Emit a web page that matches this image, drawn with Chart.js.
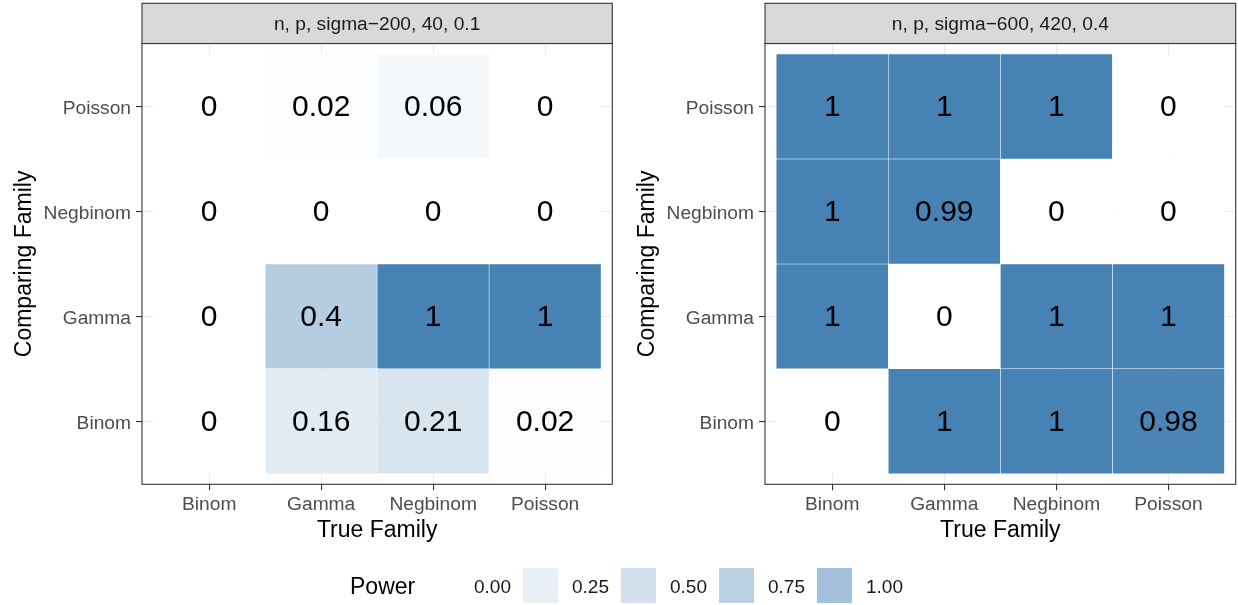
<!DOCTYPE html>
<html>
<head>
<meta charset="utf-8">
<script src="https://cdn.jsdelivr.net/npm/chart.js@4.4.1/dist/chart.umd.min.js"></script>
<style>
  html, body { margin: 0; padding: 0; background: #ffffff; }
  #wrap { position: relative; width: 1238px; height: 605px; overflow: hidden;
          font-family: "Liberation Sans", Arial, sans-serif; }
  canvas { position: absolute; top: 0; }
  .lg-title { position: absolute; font-size: 23px; color: #000; line-height: 1; white-space: nowrap; }
  .lg-key { position: absolute; width: 35px; height: 35px; }
  .lg-label { position: absolute; font-size: 19px; color: #1a1a1a; line-height: 1; white-space: nowrap; }
</style>
</head>
<body>
<div id="wrap">
  <canvas id="panelA" width="619" height="605" style="left:0px"></canvas>
  <canvas id="panelB" width="615" height="605" style="left:623px"></canvas>
  <div id="legend"></div>
</div>
<script>
// ---- data ----
const trueFamilies = ['Binom', 'Gamma', 'Negbinom', 'Poisson'];        // x axis
const comparingFamilies = ['Binom', 'Gamma', 'Negbinom', 'Poisson'];   // y axis, bottom to top
const stripTitles = ['n, p, sigma\u2212200, 40, 0.1', 'n, p, sigma\u2212600, 420, 0.4'];

// power[row][col]: rows follow comparingFamilies, columns follow trueFamilies
const powerA = [
  [0, 0.16, 0.21, 0.02],  // Binom
  [0, 0.4, 1, 1],         // Gamma
  [0, 0, 0, 0],           // Negbinom
  [0, 0.02, 0.06, 0]      // Poisson
];
const powerB = [
  [0, 1, 1, 0.98],        // Binom
  [1, 0, 1, 1],           // Gamma
  [1, 0.99, 0, 0],        // Negbinom
  [1, 1, 1, 0]            // Poisson
];
const legendBreaks = [0, 0.25, 0.5, 0.75, 1];

// ---- styling ----
const FONT = '"Liberation Sans", Arial, sans-serif';
const SMALL = 19.2;   // tick, strip text
const TITLE = 23;     // axis titles
const LOW = [255, 255, 255];
const HIGH = [70, 130, 180];   // steelblue
function powerColor(v, strength) {
  const t = v * (strength === undefined ? 1 : strength);
  return 'rgb(' + LOW.map((c, i) => Math.round(c + (HIGH[i] - c) * t)).join(',') + ')';
}

// strip on top, panel frame and cell value labels
const panelDecor = {
  id: 'panelDecor',
  afterDatasetsDraw(chart, args, opts) {
    const ctx = chart.ctx;
    const meta = chart.getDatasetMeta(0);
    ctx.save();
    ctx.fillStyle = '#000000';
    ctx.font = '30px ' + FONT;
    ctx.textAlign = 'center';
    ctx.textBaseline = 'middle';
    meta.data.forEach((el, i) => {
      const p = el.getProps(['x', 'y', 'base'], true);
      const raw = chart.data.datasets[0].data[i];
      ctx.fillText(String(raw.v), p.x, (p.y + p.base) / 2 + 1.5);
    });
    const a = chart.chartArea;
    ctx.strokeStyle = '#333333';
    ctx.lineWidth = 1.1;
    ctx.strokeRect(a.left, a.top, a.right - a.left, a.bottom - a.top);
    ctx.restore();
  },
  afterDraw(chart, args, opts) {
    const ctx = chart.ctx;
    const a = chart.chartArea;
    const top = 3.3;
    ctx.save();
    ctx.fillStyle = '#d9d9d9';
    ctx.fillRect(a.left, top, a.right - a.left, a.top - top);
    ctx.strokeStyle = '#333333';
    ctx.lineWidth = 1.1;
    ctx.strokeRect(a.left, top, a.right - a.left, a.top - top);
    ctx.fillStyle = '#1a1a1a';
    ctx.font = SMALL + 'px ' + FONT;
    ctx.textAlign = 'center';
    ctx.textBaseline = 'middle';
    ctx.fillText(opts.title, (a.left + a.right) / 2, (top + a.top) / 2 + 1.5);
    ctx.restore();
  }
};

function axisTicks(names) {
  return function (scale) {
    scale.ticks = names.map((_, i) => ({ value: i + 1 }));
  };
}

function buildPanel(canvasId, power, stripTitle, padRight) {
  const cells = [];
  power.forEach((row, r) => {
    row.forEach((v, c) => {
      cells.push({ x: c + 1, y: [r + 0.5, r + 1.5], v: v });
    });
  });

  const gridStyle = {
    color: '#ebebeb',
    lineWidth: 1.1,
    drawTicks: true,
    tickLength: 6,
    tickColor: '#333333',
    tickWidth: 1.1,
    offset: false
  };

  return new Chart(document.getElementById(canvasId), {
    type: 'bar',
    data: {
      datasets: [{
        data: cells,
        grouped: false,
        categoryPercentage: 1,
        barPercentage: 1,
        borderSkipped: false,
        borderWidth: 0.6,
        borderColor: ctx => (ctx.raw && ctx.raw.v > 0) ? 'rgba(255,255,255,0.55)' : 'rgba(255,255,255,0)',
        backgroundColor: ctx => powerColor(ctx.raw ? ctx.raw.v : 0)
      }]
    },
    options: {
      responsive: false,
      animation: false,
      devicePixelRatio: 1,
      layout: { padding: { top: 43.5, left: 0, right: padRight, bottom: 60.6 } },
      plugins: {
        legend: { display: false },
        tooltip: { enabled: false },
        panelDecor: { title: stripTitle }
      },
      scales: {
        x: {
          type: 'linear',
          min: 0.4,
          max: 4.6,
          offset: false,
          grid: gridStyle,
          border: { display: false },
          afterBuildTicks: axisTicks(trueFamilies),
          afterFit: s => { s.height = 60.1; },
          ticks: {
            autoSkip: false,
            maxRotation: 0,
            padding: 3,
            color: '#4d4d4d',
            font: { family: FONT, size: SMALL },
            callback: v => trueFamilies[v - 1]
          },
          title: {
            display: true,
            text: 'True Family',
            color: '#000000',
            font: { family: FONT, size: TITLE },
            padding: { top: 0, bottom: 0 }
          }
        },
        y: {
          type: 'linear',
          min: 0.4,
          max: 4.6,
          beginAtZero: false,
          offset: false,
          grid: gridStyle,
          border: { display: false },
          afterBuildTicks: axisTicks(comparingFamilies),
          afterFit: s => { s.width = 142; },
          ticks: {
            autoSkip: false,
            padding: 5,
            labelOffset: 2,
            color: '#4d4d4d',
            font: { family: FONT, size: SMALL },
            callback: v => comparingFamilies[v - 1]
          },
          title: {
            display: true,
            text: 'Comparing Family',
            color: '#000000',
            font: { family: FONT, size: TITLE },
            padding: { top: 10.5, bottom: 0 }
          }
        }
      }
    },
    plugins: [panelDecor]
  });
}

buildPanel('panelA', powerA, stripTitles[0], 6.7);
buildPanel('panelB', powerB, stripTitles[1], 2.3);

// ---- legend ----
(function drawLegend() {
  const host = document.getElementById('legend');
  const title = document.createElement('div');
  title.className = 'lg-title';
  title.textContent = 'Power';
  title.style.left = '350px';
  title.style.top = '575px';
  host.appendChild(title);
  legendBreaks.forEach((b, i) => {
    const left = 425 + 98 * i;
    const key = document.createElement('div');
    key.className = 'lg-key';
    key.style.left = left + 'px';
    key.style.top = '568px';
    key.style.background = powerColor(b, 0.5);
    host.appendChild(key);
    const lab = document.createElement('div');
    lab.className = 'lg-label';
    lab.textContent = b.toFixed(2);
    lab.style.left = (left + 49) + 'px';
    lab.style.top = '577px';
    host.appendChild(lab);
  });
})();
</script>
</body>
</html>
